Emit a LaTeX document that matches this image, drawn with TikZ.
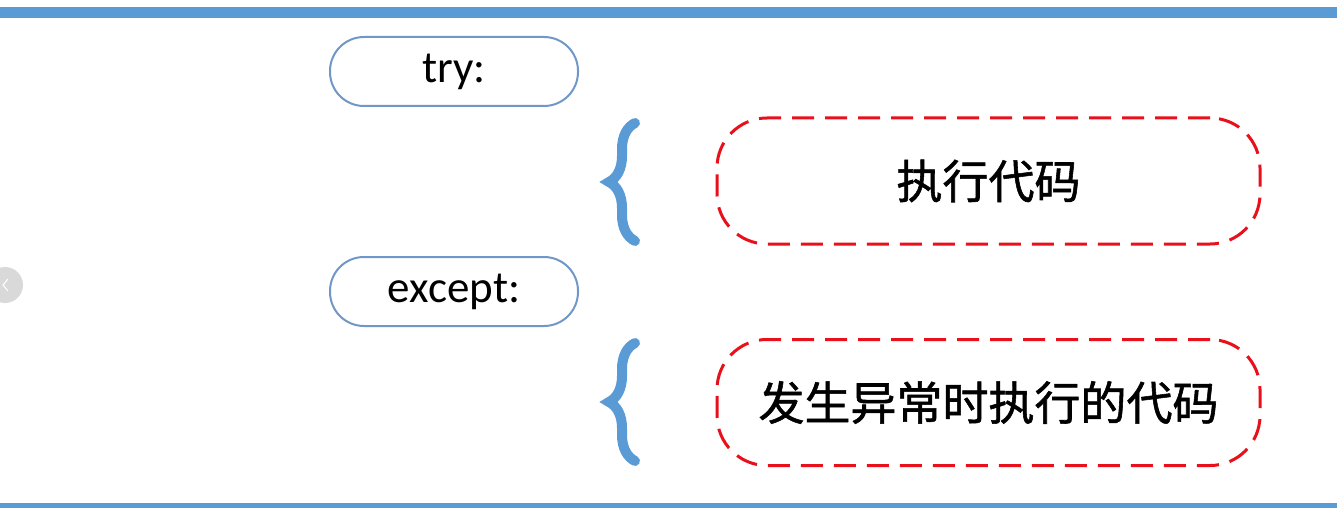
\documentclass[tikz,border=0pt]{standalone}
\usepackage{fontspec}
\setmainfont{Carlito}
\newfontfamily\cjk[FakeBold=1.2]{Noto Sans CJK SC}
\usetikzlibrary{decorations.pathreplacing}
\definecolor{barblue}{HTML}{5B9BD5}
\definecolor{boxblue}{HTML}{7097C8}
\definecolor{dashred}{HTML}{E8101A}
\tikzset{
	keybox/.style={draw=boxblue, line width=2pt, rounded corners=34pt, minimum width=248pt, minimum height=69pt, text height=30pt, text depth=8pt, font=\fontsize{45}{50}\selectfont},
	codebox/.style={draw=dashred, line width=3pt, dash pattern=on 22pt off 11pt, rounded corners=50pt, minimum width=543pt, minimum height=126pt, font=\cjk\fontsize{46}{52}\selectfont},
	bluebrace/.style={draw=barblue, line width=10pt, line cap=round, decorate, decoration={brace, amplitude=26pt}}
}
\begin{document}
\begin{tikzpicture}[x=1pt, y=-1pt]
			%%%%% START %%%%%
			\useasboundingbox (0, 0) rectangle (1337, 508);
			
			\fill[color=barblue] (0, 7) rectangle (1337, 18);
			\fill[color=barblue] (0, 503) rectangle (1337, 508);
			
			\fill[color=black!15] (5, 285) circle (18);
			\draw[line width=1pt, color=white] (8, 279) -- (3, 285) -- (8, 291);
			
			\node[keybox] (try) at (454, 71.5) {try:};
			\node[keybox] (except) at (454, 291.5) {except:};
			
			\draw[bluebrace] (635, 241) -- (635, 123);
			\draw[bluebrace] (635, 461) -- (635, 343);
			
			\node[codebox] (run) at (988.5, 181) {执行代码};
			\node[codebox] (handle) at (988.5, 402.5) {发生异常时执行的代码};
			
			%%%%% END %%%%%
		\end{tikzpicture}
\end{document}
